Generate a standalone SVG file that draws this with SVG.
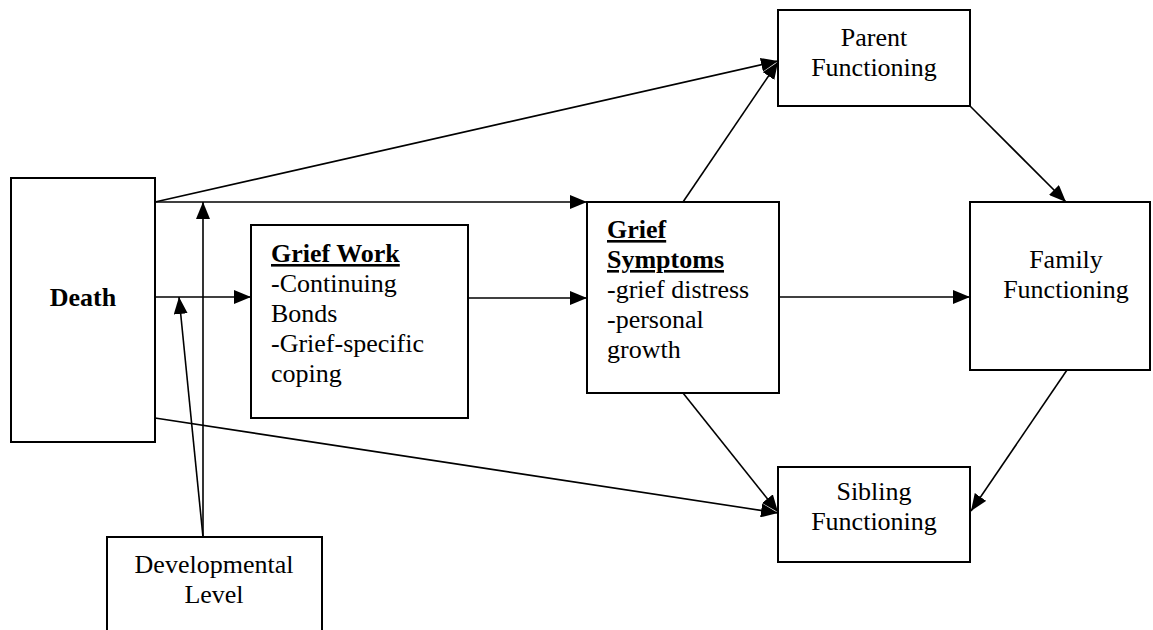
<svg xmlns="http://www.w3.org/2000/svg" width="1153" height="630" viewBox="0 0 1153 630">
<defs>
<marker id="ah" markerWidth="17" markerHeight="14" refX="17" refY="7" orient="auto" markerUnits="userSpaceOnUse">
<path d="M0,0 L17,7 L0,14 z" fill="#000"/>
</marker>
<style>
.box{fill:#fff;stroke:#000;stroke-width:2}
.t{font-family:"Liberation Serif","Times New Roman",serif;font-size:26px;fill:#000}
.c{text-anchor:middle}
.b{font-weight:bold}
.u{text-decoration:underline}
.ln{stroke:#000;stroke-width:1.6;fill:none;marker-end:url(#ah)}
</style>
</defs>
<rect width="1153" height="630" fill="#fff"/>
<g id="death">
<rect class="box" x="11" y="178" width="144" height="264"/>
<text class="t b c" x="83" y="306">Death</text>
</g>
<g id="griefwork">
<rect class="box" x="251" y="225" width="217" height="193"/>
<text class="t" x="271" y="262"><tspan class="b u">Grief Work</tspan></text>
<text class="t" x="271" y="292">-Continuing</text>
<text class="t" x="271" y="322">Bonds</text>
<text class="t" x="271" y="352">-Grief-specific</text>
<text class="t" x="271" y="382">coping</text>
</g>
<g id="griefsymptoms">
<rect class="box" x="587" y="202" width="192" height="191"/>
<text class="t" x="607" y="238"><tspan class="b u">Grief</tspan></text>
<text class="t" x="607" y="268"><tspan class="b u">Symptoms</tspan></text>
<text class="t" x="607" y="298">-grief distress</text>
<text class="t" x="607" y="328">-personal</text>
<text class="t" x="607" y="358">growth</text>
</g>
<g id="parent">
<rect class="box" x="778" y="10" width="192" height="96"/>
<text class="t c" x="874" y="46">Parent</text>
<text class="t c" x="874" y="76">Functioning</text>
</g>
<g id="family">
<rect class="box" x="970" y="202" width="180" height="168"/>
<text class="t c" x="1066" y="268">Family</text>
<text class="t c" x="1066" y="298">Functioning</text>
</g>
<g id="sibling">
<rect class="box" x="778" y="467" width="192" height="95"/>
<text class="t c" x="874" y="500">Sibling</text>
<text class="t c" x="874" y="530">Functioning</text>
</g>
<g id="developmental">
<rect class="box" x="107" y="537" width="215" height="110"/>
<text class="t c" x="214" y="573">Developmental</text>
<text class="t c" x="214" y="603">Level</text>
</g>
<g id="connectors">
<line class="ln" x1="155" y1="202" x2="778" y2="61"/>
<line class="ln" x1="155" y1="202" x2="587" y2="202"/>
<line class="ln" x1="155" y1="297" x2="251" y2="297"/>
<line class="ln" x1="155" y1="418" x2="778" y2="513"/>
<line class="ln" x1="203" y1="537" x2="203" y2="202"/>
<line class="ln" x1="203" y1="537" x2="179" y2="297"/>
<line class="ln" x1="468" y1="298" x2="587" y2="298"/>
<line class="ln" x1="683" y1="202" x2="778" y2="62"/>
<line class="ln" x1="779" y1="297" x2="970" y2="297"/>
<line class="ln" x1="683" y1="393" x2="778" y2="512"/>
<line class="ln" x1="970" y1="106" x2="1066" y2="202"/>
<line class="ln" x1="1067" y1="370" x2="971" y2="511"/>
</g>
</svg>
